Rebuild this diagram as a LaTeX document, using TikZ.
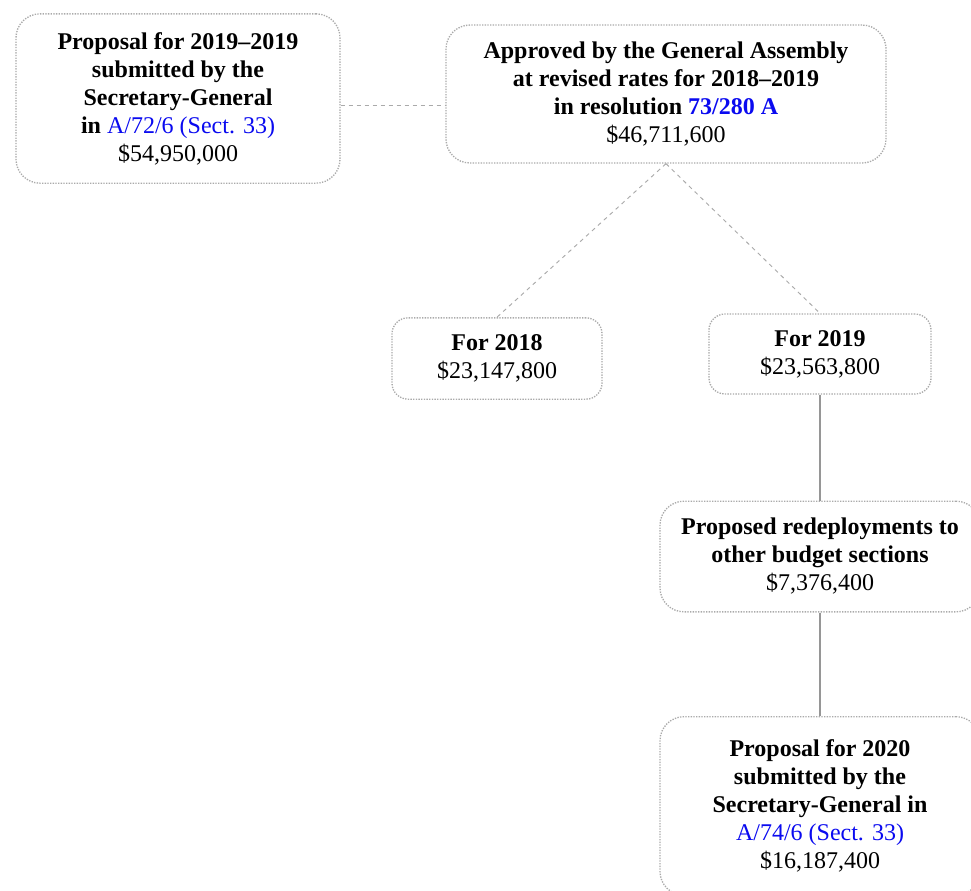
\documentclass[tikz,border=0pt]{standalone}
\usepackage{fontspec}
\setmainfont{Liberation Serif}
\usetikzlibrary{positioning,calc}

\definecolor{docblue}{RGB}{10,10,240}
\definecolor{boxgray}{RGB}{170,170,170}
\definecolor{linegray}{RGB}{150,150,150}

\begin{document}
\begin{tikzpicture}[x=0.75pt,y=-0.75pt,
    box/.style={draw=boxgray,densely dotted,line width=1pt,rounded corners=18pt,align=center,
      inner sep=0pt,font=\fontsize{18}{21}\selectfont},
    link/.style={draw=boxgray,dashed,line width=0.7pt},
    stem/.style={draw=linegray,line width=0.8pt}]
    \useasboundingbox (0,0) rectangle (971,890);
    \clip (0,0) rectangle (971,890);
    \fill[white] (0,0) rectangle (971,890);
    % top row
    \node[box,minimum width=243pt,minimum height=127pt] (prop) at (178,98.5)
      {\textbf{Proposal for 2019–2019}\\ \textbf{submitted by the}\\ \textbf{Secretary-General}\\
       \textbf{in} \textcolor{docblue}{A/72/6 (Sect. 33)}\\ \$54,950,000};
    \node[box,minimum width=330pt,minimum height=103.5pt] (appr) at (666,94)
      {\textbf{Approved by the General Assembly}\\ \textbf{at revised rates for 2018–2019}\\
       \textbf{in resolution \textcolor{docblue}{73/280 A}}\\ \$46,711,600};
    % split by year
    \node[box,minimum width=157.5pt,minimum height=61pt,rounded corners=12pt] (y18) at (497,358.5)
      {\textbf{For 2018}\\ \$23,147,800};
    \node[box,minimum width=166.5pt,minimum height=60pt,rounded corners=12pt] (y19) at (820,354)
      {\textbf{For 2019}\\ \$23,563,800};
    % 2019 onwards
    \node[box,minimum width=240pt,minimum height=83pt] (redep) at (820,556.5)
      {\textbf{Proposed redeployments to}\\ \textbf{other budget sections}\\ \$7,376,400};
    \node[box,minimum width=240pt,minimum height=134pt] (prop20) at (820,806)
      {\textbf{Proposal for 2020}\\ \textbf{submitted by the}\\ \textbf{Secretary-General in}\\
       \textcolor{docblue}{A/74/6 (Sect. 33)}\\ \$16,187,400};
    \draw[link] (prop.east |- 0,105) -- (appr.west |- 0,105);
    \draw[link] (appr.south) -- (y18.north);
    \draw[link] (appr.south) -- (y19.north);
    \draw[stem] (y19.south) -- (redep.north);
    \draw[stem] (redep.south) -- (prop20.north);
  \end{tikzpicture}
\end{document}
